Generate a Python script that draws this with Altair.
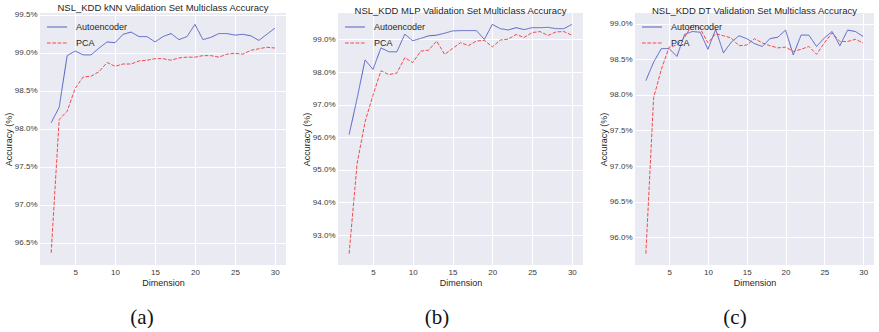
import altair as alt
import pandas as pd

# Reduced feature dimension (x axis)
dims = list(range(2, 31))

# kNN validation accuracy (%)
knn_autoencoder = [98.08, 98.28, 98.96, 99.02, 98.97, 98.97, 99.06, 99.14, 99.13, 99.24,
                   99.27, 99.21, 99.21, 99.14, 99.21, 99.25, 99.17, 99.21, 99.37, 99.17,
                   99.20, 99.25, 99.25, 99.23, 99.24, 99.22, 99.16, 99.24, 99.32]
knn_pca = [96.37, 98.12, 98.23, 98.53, 98.68, 98.69, 98.75, 98.87, 98.82, 98.85,
           98.85, 98.89, 98.90, 98.92, 98.92, 98.90, 98.93, 98.94, 98.94, 98.96,
           98.96, 98.94, 98.98, 98.99, 98.98, 99.03, 99.05, 99.07, 99.06]

# MLP validation accuracy (%)
mlp_autoencoder = [96.08, 97.19, 98.37, 98.08, 98.74, 98.62, 98.62, 99.16, 98.96, 99.03,
                   99.11, 99.13, 99.19, 99.26, 99.27, 99.27, 99.27, 99.00, 99.46, 99.33,
                   99.29, 99.36, 99.30, 99.36, 99.36, 99.37, 99.33, 99.33, 99.46]
mlp_pca = [92.43, 95.19, 96.47, 97.29, 98.04, 97.92, 97.97, 98.44, 98.29, 98.64,
           98.67, 98.95, 98.54, 98.72, 98.90, 98.81, 98.95, 98.97, 98.77, 98.98,
           99.01, 99.15, 99.06, 99.21, 99.24, 99.12, 99.23, 99.24, 99.13]

# Decision tree validation accuracy (%)
dt_autoencoder = [98.20, 98.46, 98.65, 98.65, 98.54, 98.85, 98.89, 98.88, 98.64, 98.92,
                  98.59, 98.74, 98.83, 98.79, 98.72, 98.68, 98.79, 98.81, 98.91, 98.56,
                  98.84, 98.84, 98.68, 98.80, 98.89, 98.69, 98.91, 98.89, 98.82]
dt_pca = [95.77, 97.96, 98.36, 98.67, 98.70, 98.81, 98.99, 98.93, 98.73, 98.86,
          98.83, 98.80, 98.69, 98.70, 98.79, 98.73, 98.69, 98.66, 98.67, 98.61,
          98.64, 98.68, 98.57, 98.73, 98.87, 98.75, 98.75, 98.78, 98.73]

methods = ["Autoencoder", "PCA"]
method_colors = ["#5560C4", "#F24A4A"]
method_dashes = [[1, 0], [3.7, 1.6]]
x_ticks = [5, 10, 15, 20, 25, 30]

FONT = "Liberation Sans"
PLOT_H = 252


def panel(title, ae, pca, y_domain, y_ticks, letter, letter_x, width):
    df = pd.DataFrame({
        "Dimension": dims * 2,
        "Accuracy": ae + pca,
        "Method": [methods[0]] * len(dims) + [methods[1]] * len(dims),
    })
    legend = alt.Legend(
        title=None, orient="none", legendX=6, legendY=3,
        symbolType="stroke", symbolSize=400, symbolStrokeWidth=1.1,
        labelFont=FONT, labelFontSize=9, labelColor="#262626",
        labelOffset=8, rowPadding=-6,
    )
    lines = alt.Chart(df).mark_line(strokeWidth=1).encode(
        x=alt.X("Dimension:Q",
                scale=alt.Scale(domain=[0.6, 31.4], nice=False, zero=False),
                axis=alt.Axis(values=x_ticks, title="Dimension", format="d")),
        y=alt.Y("Accuracy:Q",
                scale=alt.Scale(domain=y_domain, nice=False, zero=False),
                axis=alt.Axis(values=y_ticks, title="Accuracy (%)",
                              labelExpr="format(datum.value, '.1f') + '%'")),
        color=alt.Color("Method:N",
                        scale=alt.Scale(domain=methods, range=method_colors),
                        legend=legend),
        strokeDash=alt.StrokeDash("Method:N",
                                  scale=alt.Scale(domain=methods, range=method_dashes),
                                  legend=legend),
        order=alt.Order("Dimension:Q"),
    )
    tag = alt.Chart(pd.DataFrame({"tag": [letter]})).mark_text(
        font="Liberation Serif", fontSize=21, color="#111111", baseline="middle"
    ).encode(
        text="tag:N",
        x=alt.value(letter_x),
        y=alt.value(305),
    )
    return alt.layer(lines, tag).properties(
        width=width, height=PLOT_H,
        title=alt.TitleParams(title, anchor="middle"),
    )


p1 = panel("NSL_KDD kNN Validation Set Multiclass Accuracy", knn_autoencoder, knn_pca,
           [96.21, 99.52], [96.5, 97.0, 97.5, 98.0, 98.5, 99.0, 99.5], "(a)", 102, 246)
p2 = panel("NSL_KDD MLP Validation Set Multiclass Accuracy", mlp_autoencoder, mlp_pca,
           [92.08, 99.81], [93, 94, 95, 96, 97, 98, 99], "(b)", 99, 245)
p3 = panel("NSL_KDD DT Validation Set Multiclass Accuracy", dt_autoencoder, dt_pca,
           [95.61, 99.15], [96.0, 96.5, 97.0, 97.5, 98.0, 98.5, 99.0], "(c)", 100, 239)

chart = alt.hconcat(p1, p2, p3, spacing=52, bounds="flush").resolve_scale(
    x="independent", y="independent", color="independent", strokeDash="independent"
).resolve_legend(
    color="independent", strokeDash="independent"
).properties(
    padding={"left": 4, "top": 3, "right": 0, "bottom": 0},
    background="white",
).configure_view(
    fill="#EAEAF2", stroke=None
).configure_axis(
    grid=True, gridColor="#FFFFFF", gridWidth=1, domain=False, ticks=False,
    labelFont=FONT, labelFontSize=8, labelColor="#3A3A3A",
    titleFont=FONT, titleFontSize=9, titleFontWeight="normal", titleColor="#262626",
).configure_axisX(
    labelPadding=3, titlePadding=2,
).configure_axisY(
    labelPadding=3, titlePadding=1,
).configure_title(
    font=FONT, fontSize=9.5, fontWeight="normal", color="#262626", offset=-2,
)

chart.save("out.html", embed_options={"renderer": "svg", "actions": False})
